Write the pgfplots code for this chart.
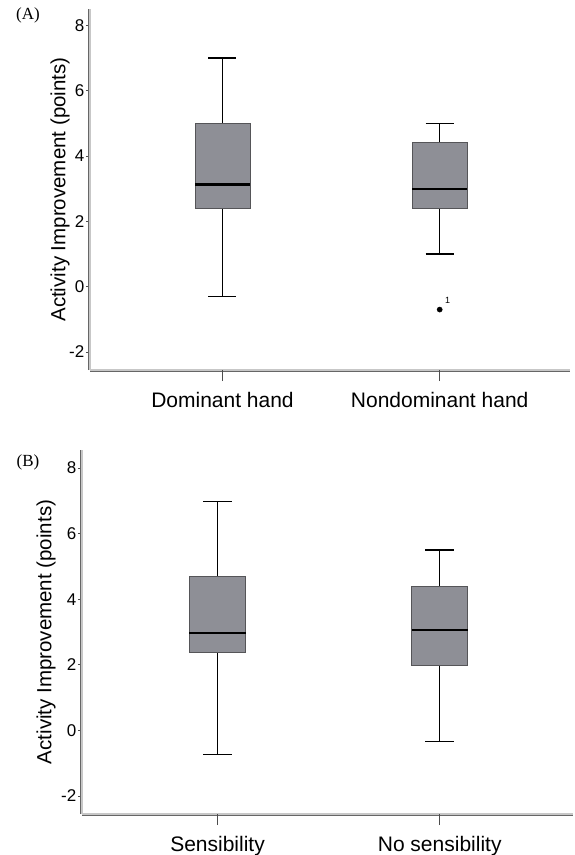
\documentclass[border=0pt]{standalone}
\usepackage{pgfplots}
\pgfplotsset{compat=1.18}
\usepgfplotslibrary{statistics}
\usepackage{fontspec}
\setmainfont{Liberation Sans}
\newfontfamily\timesf{Liberation Serif}
\definecolor{boxgray}{RGB}{142,143,150}
\definecolor{edgegray}{RGB}{85,85,88}
\begin{document}
\begin{tikzpicture}
\path[use as bounding box] (0pt,0pt) rectangle (574pt,-855pt);
\pgfplotsset{
  panel/.style={
    scale only axis,
    anchor=south west,
    xmin=0.39, xmax=2.6,
    axis x line=bottom, axis y line=left,
    axis line style={-, draw=black!60, double=black!22, double distance=1.2pt, line width=0.9pt},
    tick align=outside,
    major tick length=4pt,
    tick style={black!70, line width=0.8pt},
    ytick={-2,0,2,4,6,8}, yticklabels={-2,0,2,4,6,8},
    yticklabel style={font=\fontsize{17}{19}\selectfont, inner sep=1.5pt},
    xtick=\empty,
    extra x ticks={1,2},
    extra x tick style={major tick length=11pt, tick label style={font=\fontsize{21}{24}\selectfont, inner sep=2pt, yshift=-9pt}},
    ylabel={Activity Improvement (points)},
    boxplot/draw direction=y,
    boxplot/box extend=0.253,
    boxplot/whisker extend=0.129,
    boxplot/every box/.style={draw=edgegray, fill=boxgray, line width=0.8pt},
    boxplot/every median/.style={black, line width=2.2pt},
    boxplot/every whisker/.style={black, line width=1.1pt},
    clip=false,
  }
}
% Panel A
\begin{axis}[panel,
  at={(90pt,-370pt)}, width=480pt, height=361pt,
  ymin=-2.55, ymax=8.5,
  extra x tick labels={Dominant hand, Nondominant hand},
  ylabel style={font=\fontsize{20.5}{24}\selectfont, at={(axis description cs:-0.0625,0.5)}, anchor=center},
]
\addplot[boxplot prepared={lower whisker=-0.31, lower quartile=2.40, median=3.13, upper quartile=5.00, upper whisker=7.00, draw position=1}] coordinates {};
\addplot[boxplot prepared={lower whisker=1.00, lower quartile=2.40, median=3.00, upper quartile=4.41, upper whisker=5.00, draw position=2}, mark=*, mark size=2.6pt, mark options={black, fill=black}] coordinates {(0,-0.70)};
\node[font=\fontsize{9}{10}\selectfont, anchor=center] at (axis cs:2.036,-0.43) {1};
\end{axis}
% Panel B
\begin{axis}[panel,
  at={(82pt,-814pt)}, width=491pt, height=364pt,
  ymin=-2.55, ymax=8.55,
  extra x tick labels={Sensibility, No sensibility},
  ylabel style={font=\fontsize{20.5}{24}\selectfont, at={(axis description cs:-0.073,0.5)}, anchor=center},
]
\addplot[boxplot prepared={lower whisker=-0.73, lower quartile=2.38, median=2.98, upper quartile=4.69, upper whisker=6.99, draw position=1}] coordinates {};
\addplot[boxplot prepared={lower whisker=-0.33, lower quartile=1.99, median=3.07, upper quartile=4.40, upper whisker=5.50, draw position=2}] coordinates {};
\end{axis}
\node[font=\timesf\fontsize{17}{19}\selectfont] at (28pt,-15pt) {(A)};
\node[font=\timesf\fontsize{17}{19}\selectfont] at (28pt,-462pt) {(B)};
\end{tikzpicture}
\end{document}
